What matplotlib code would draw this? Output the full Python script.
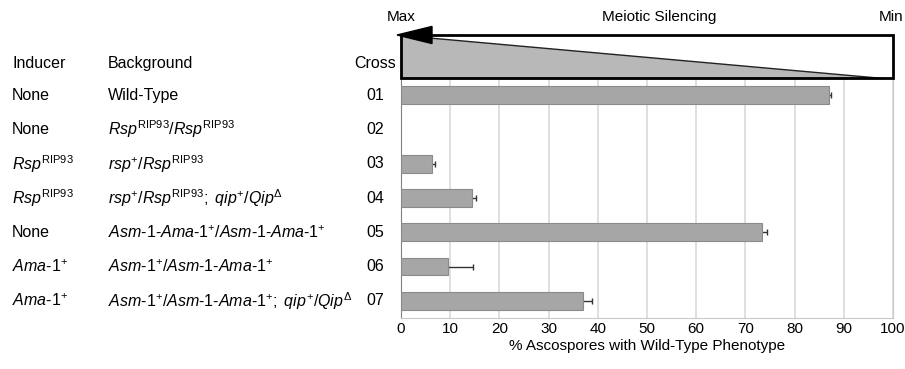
import matplotlib
matplotlib.use("Agg")
import matplotlib.pyplot as plt
import numpy as np
from matplotlib.patches import Polygon, Rectangle
from matplotlib.transforms import blended_transform_factory

plt.rcParams["font.family"] = ["Liberation Sans", "DejaVu Sans"]
plt.rcParams["mathtext.fontset"] = "custom"
plt.rcParams["mathtext.rm"] = "Liberation Sans"
plt.rcParams["mathtext.it"] = "Liberation Sans:italic"
plt.rcParams["mathtext.bf"] = "Liberation Sans:bold"

# --- data ---
crosses = ["01", "02", "03", "04", "05", "06", "07"]
inducers = [
    "None",
    "None",
    r"$\mathit{Rsp}^{\mathrm{RIP93}}$",
    r"$\mathit{Rsp}^{\mathrm{RIP93}}$",
    "None",
    r"$\mathit{Ama‐1}^{+}$",
    r"$\mathit{Ama‐1}^{+}$",
]
backgrounds = [
    "Wild-Type",
    r"$\mathit{Rsp}^{\mathrm{RIP93}}\mathit{/Rsp}^{\mathrm{RIP93}}$",
    r"$\mathit{rsp}^{+}\mathit{/Rsp}^{\mathrm{RIP93}}$",
    r"$\mathit{rsp}^{+}\mathit{/Rsp}^{\mathrm{RIP93}}\mathit{;\ qip}^{+}\mathit{/Qip}^{\Delta}$",
    r"$\mathit{Asm‐1‐Ama‐1}^{+}\mathit{/Asm‐1‐Ama‐1}^{+}$",
    r"$\mathit{Asm‐1}^{+}\mathit{/Asm‐1‐Ama‐1}^{+}$",
    r"$\mathit{Asm‐1}^{+}\mathit{/Asm‐1‐Ama‐1}^{+}\mathit{;\ qip}^{+}\mathit{/Qip}^{\Delta}$",
]
values = [87.0, np.nan, 6.4, 14.5, 73.4, 9.5, 36.9]
errors = [0.3, np.nan, 0.6, 0.8, 0.9, 5.1, 1.9]
xticks = [0, 10, 20, 30, 40, 50, 60, 70, 80, 90, 100]

FS = 11.5

W, H = 905, 369
fig = plt.figure(figsize=(W / 100, H / 100), dpi=100)
ax = fig.add_axes([401 / W, 1 - 318 / H, (893 - 401) / W, (318 - 78) / H])

y = np.arange(len(crosses))
ax.errorbar(values, y, xerr=errors, fmt="none", ecolor="#333333",
            elinewidth=1.0, capsize=2.5, capthick=1.0, zorder=2)
ax.barh(y, values, height=0.52, color="#a6a6a6", edgecolor="#8a8a8a",
        linewidth=0.8, zorder=3)

ax.set_xlim(0, 100)
ax.set_ylim(6.5, -0.5)
ax.set_xticks(xticks)
ax.set_yticks([])
ax.tick_params(axis="x", length=0, labelsize=11, pad=3)
ax.grid(axis="x", color="#d9d9d9", linewidth=1.2, zorder=0)
ax.set_axisbelow(True)
ax.spines["top"].set_visible(False)
ax.spines["right"].set_color("#c8c8c8")
ax.spines["bottom"].set_color("#c8c8c8")
ax.spines["left"].set_color("#808080")
ax.set_xlabel("% Ascospores with Wild-Type Phenotype", fontsize=11, labelpad=2)

# --- header: meiotic silencing wedge ---
ybot, ytop = -0.5, -1.754
tri = Polygon([(0, ytop), (0, ybot), (98, ybot)], closed=True,
              facecolor="#b8b8b8", edgecolor="#222222", linewidth=1.0,
              clip_on=False, zorder=4)
ax.add_patch(tri)
ax.add_patch(Rectangle((0, ybot), 100, ytop - ybot, fill=False,
                       edgecolor="black", linewidth=2.0, clip_on=False, zorder=5))
head = Polygon([(-0.8, ytop), (6.3, ytop - 0.25), (6.3, ytop + 0.25)],
               closed=True, facecolor="black", edgecolor="black",
               clip_on=False, zorder=6)
ax.add_patch(head)
ax.text(0, -2.28, "Max", ha="center", va="center", fontsize=11)
ax.text(52.4, -2.28, "Meiotic Silencing", ha="center", va="center", fontsize=11)
ax.text(102.2, -2.28, "Min", ha="right", va="center", fontsize=11)

# --- left table ---
tr = blended_transform_factory(fig.transFigure, ax.transData)
hy = -0.91
fig.text(12 / W, hy, "Inducer", transform=tr, ha="left", va="center", fontsize=FS)
fig.text(108 / W, hy, "Background", transform=tr, ha="left", va="center", fontsize=FS)
fig.text(396 / W, hy, "Cross", transform=tr, ha="right", va="center", fontsize=FS)
for i in range(len(crosses)):
    fig.text(12 / W, y[i], inducers[i], transform=tr, ha="left", va="center", fontsize=FS)
    fig.text(108 / W, y[i], backgrounds[i], transform=tr, ha="left", va="center", fontsize=FS)
    fig.text(375 / W, y[i], crosses[i], transform=tr, ha="center", va="center", fontsize=FS)

fig.savefig("out.png", dpi=100, facecolor="white")
